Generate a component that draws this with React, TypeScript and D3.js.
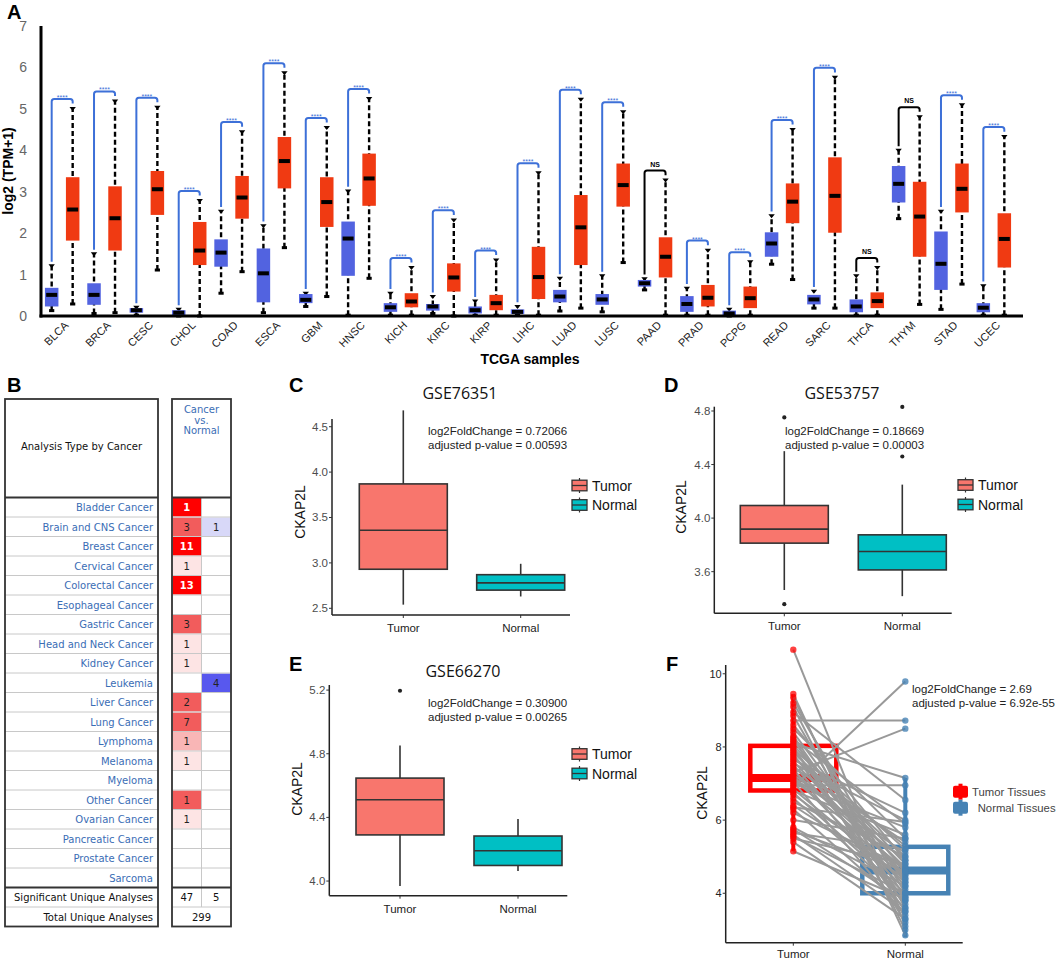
import * as d3 from "d3";

// ---------- Panel A: TCGA pan-cancer boxplots ----------
const tcgaTypes = [
  "BLCA", "BRCA", "CESC", "CHOL", "COAD", "ESCA", "GBM", "HNSC", "KICH", "KIRC", "KIRP", "LIHC",
  "LUAD", "LUSC", "PAAD", "PRAD", "PCPG", "READ", "SARC", "THCA", "THYM", "STAD", "UCEC",
];
// [whiskerLow, q1, median, q3, whiskerHigh]
const tcgaNormal = [
  [0.13, 0.23, 0.51, 0.68, 1.21], [0.06, 0.27, 0.51, 0.79, 1.5], [0.02, 0.08, 0.14, 0.19, 0.21],
  [0, 0.02, 0.08, 0.14, 0.16], [0.55, 1.19, 1.53, 1.85, 2.53], [0.08, 0.33, 1.03, 1.63, 2.18],
  [0.23, 0.31, 0.39, 0.53, 0.55], [0.02, 0.97, 1.87, 2.28, 3.02], [0.02, 0.1, 0.21, 0.31, 0.55],
  [0.06, 0.13, 0.23, 0.29, 0.47], [0.02, 0.06, 0.14, 0.23, 0.36], [0.02, 0.05, 0.1, 0.16, 0.23],
  [0.12, 0.33, 0.47, 0.63, 0.91], [0.1, 0.27, 0.4, 0.53, 0.97], [0.63, 0.71, 0.79, 0.87, 0.9],
  [0.02, 0.1, 0.29, 0.48, 0.67], [0, 0.02, 0.06, 0.13, 0.16], [1.25, 1.43, 1.75, 2.02, 2.42],
  [0.19, 0.28, 0.4, 0.51, 0.6], [0.02, 0.09, 0.23, 0.4, 0.97], [2.35, 2.74, 3.19, 3.62, 4.0],
  [0.16, 0.63, 1.26, 2.04, 2.53], [0.02, 0.09, 0.2, 0.31, 0.73],
];
const tcgaTumor = [
  [0.29, 1.82, 2.57, 3.35, 5.01], [0.08, 1.58, 2.36, 3.13, 5.19], [1.11, 2.44, 3.06, 3.5, 5.04],
  [0, 1.23, 1.58, 2.27, 2.79], [1.07, 2.35, 2.86, 3.38, 4.45], [1.65, 3.08, 3.74, 4.32, 5.87],
  [0.47, 2.15, 2.75, 3.35, 4.55], [0.91, 2.66, 3.32, 3.92, 5.25], [0.02, 0.21, 0.35, 0.55, 1.17],
  [0, 0.59, 0.93, 1.27, 2.32], [0.02, 0.14, 0.31, 0.51, 1.35], [0.02, 0.41, 0.94, 1.67, 3.46],
  [0.19, 1.23, 2.14, 2.92, 5.23], [1.29, 2.64, 3.16, 3.68, 4.93], [0.02, 0.93, 1.43, 1.9, 3.28],
  [0.02, 0.23, 0.44, 0.75, 1.59], [0.02, 0.19, 0.43, 0.71, 1.31], [0.88, 2.24, 2.76, 3.2, 4.5],
  [0.19, 2.01, 2.9, 3.83, 5.76], [0.02, 0.19, 0.36, 0.57, 1.17], [0.28, 1.43, 2.4, 3.24, 4.81],
  [0.77, 2.5, 3.07, 3.68, 5.1], [0.02, 1.17, 1.86, 2.48, 4.33],
];
const tcgaSignif = [
  "****", "****", "****", "****", "****", "****", "****", "****", "****", "****", "****", "****",
  "****", "****", "NS", "****", "****", "****", "****", "NS", "NS", "****", "****",
];
const tcgaYTicks = [0, 1, 2, 3, 4, 5, 6, 7];

// ---------- Panel B: Oncomine table ----------
const oncoCancers = [
  "Bladder Cancer", "Brain and CNS Cancer", "Breast Cancer", "Cervical Cancer", "Colorectal Cancer",
  "Esophageal Cancer", "Gastric Cancer", "Head and Neck Cancer", "Kidney Cancer", "Leukemia",
  "Liver Cancer", "Lung Cancer", "Lymphoma", "Melanoma", "Myeloma", "Other Cancer", "Ovarian Cancer",
  "Pancreatic Cancer", "Prostate Cancer", "Sarcoma",
];
const oncoUp = [1, 3, 11, 1, 13, null, 3, 1, 1, null, 2, 7, 1, 1, null, 1, 1, null, null, null];
const oncoUpTier = [1, 2, 1, 4, 1, 0, 2, 4, 4, 0, 2, 2, 3, 4, 0, 2, 4, 0, 0, 0];
const oncoDown = [null, 1, null, null, null, null, null, null, null, 4, null, null, null, null, null, null, null, null, null, null];
const oncoDownTier = [0, 4, 0, 0, 0, 0, 0, 0, 0, 2, 0, 0, 0, 0, 0, 0, 0, 0, 0, 0];
const oncoSignificant = [47, 5];
const oncoTotal = 299;

// ---------- Panels C, D, E: GEO boxplots ----------
const geoGroups = ["Tumor", "Normal"];
const gse76351Box = [[2.54, 2.93, 3.36, 3.87, 4.68], [2.63, 2.7, 2.78, 2.87, 2.99]];
const gse76351Out: number[][] = [[], []];
const gse76351Ticks = [2.5, 3.0, 3.5, 4.0, 4.5];
const gse53757Box = [[3.463, 3.813, 3.918, 4.094, 4.5], [3.417, 3.613, 3.75, 3.875, 4.25]];
const gse53757Out = [[4.752, 3.357], [4.83, 4.46]];
const gse53757Ticks = [3.6, 4.0, 4.4, 4.8];
const gse66270Box = [[3.969, 4.29, 4.511, 4.647, 4.852], [4.063, 4.098, 4.19, 4.283, 4.39]];
const gse66270Out = [[5.196], []];
const gse66270Ticks = [4.0, 4.4, 4.8, 5.2];

// ---------- Panel F: paired samples ----------
const fGroups = ["Tumor", "Normal"];
const fLegend = ["Tumor Tissues", "Normal Tissues"];
const fBox = [[5.15, 6.81, 7.15, 8.03, 9.45], [2.8, 4.0, 4.62, 5.27, 7.15]];
const fTicks = [4, 6, 8, 10];
const fPairTumor = [
  10.66, 9.45, 9.35, 9.2, 9.1, 8.95, 8.85, 8.72, 8.6, 8.5, 8.4, 8.3, 8.2, 8.15, 8.1, 8.05, 8.0, 7.95,
  7.9, 7.85, 7.8, 7.75, 7.7, 7.6, 7.55, 7.5, 7.45, 7.4, 7.35, 7.3, 7.25, 7.2, 7.15, 7.1, 7.05, 7.0,
  6.95, 6.9, 6.85, 6.8, 6.75, 6.7, 6.6, 6.5, 6.4, 6.3, 6.2, 6.0, 5.8, 5.75, 5.7, 5.65, 5.6, 5.55, 5.5,
  5.4, 5.15, 6.35, 8.25, 7.65,
];
const fPairNormal = [
  3.1, 2.85, 3.3, 4.0, 3.0, 6.55, 3.6, 8.72, 4.9, 5.5, 4.3, 3.9, 5.9, 4.6, 7.15, 4.8, 3.5, 5.2, 4.4,
  5.0, 3.8, 4.7, 5.3, 4.5, 6.0, 4.2, 5.4, 3.7, 4.6, 8.5, 4.9, 4.1, 5.1, 4.65, 3.4, 5.8, 6.95, 9.79,
  4.3, 5.6, 4.0, 4.5, 3.9, 5.0, 4.4, 3.6, 4.7, 5.5, 4.2, 3.8, 4.6, 5.2, 3.5, 4.0, 4.8, 3.3, 3.85, 5.95,
  3.2, 6.2,
];

const ARIAL = "Liberation Sans, Arial, sans-serif";
const TITLE_FONT = "Open Sans, Noto Sans, sans-serif";
const TABLE_FONT = "DejaVu Sans, sans-serif";

function PanelA() {
  const x = d3.scaleBand<string>().domain(tcgaTypes).range([41, 1015]);
  const y = d3.scaleLinear().domain([0, 7]).range([316, 26]);
  const off = 10.5;
  const bw = 13.5;
  const blue = "#5263e0";
  const red = "#f03a12";
  const brBlue = "#3d70d8";

  const box = (s: number[], cx: number, fill: string, key: string) => (
    <g key={key}>
      <line x1={cx} x2={cx} y1={y(s[0])} y2={y(s[4])} stroke="#000" strokeWidth={2.4} strokeDasharray="5,3" />
      <path d={`M${cx - 3.2},${y(s[4]) - 1.5}H${cx + 3.2}L${cx},${y(s[4]) + 2.5}Z`} fill="#000" />
      <rect x={cx - 2.6} y={y(s[0]) - 1.5} width={5.2} height={3} fill="#000" />
      <rect x={cx - bw / 2} y={y(s[3])} width={bw} height={Math.max(1.5, y(s[1]) - y(s[3]))} fill={fill} />
      <rect x={cx - 5.5} y={y(s[2]) - 2} width={11} height={4} fill="#000" />
    </g>
  );

  return (
    <g fontFamily={ARIAL}>
      {tcgaTypes.map((t, i) => {
        const c = (x(t) ?? 0) + x.bandwidth() / 2;
        const n = tcgaNormal[i];
        const tu = tcgaTumor[i];
        const top = y(Math.max(n[4], tu[4]) + 0.23);
        const xl = c - off;
        const xr = c + off;
        const ns = tcgaSignif[i] === "NS";
        const col = ns ? "#000" : brBlue;
        const r = 2.5;
        return (
          <g key={t}>
            <path
              d={`M${xl},${y(n[4] + 0.1)}V${top + r}Q${xl},${top} ${xl + r},${top}H${xr - r}Q${xr},${top} ${xr},${top + r}V${y(tu[4] + 0.12)}`}
              fill="none"
              stroke={col}
              strokeWidth={2}
            />
            {ns ? (
              <text x={c} y={top - 4} textAnchor="middle" fontSize={7} fontWeight="bold" fill="#000">NS</text>
            ) : (
              <text x={c} y={top + 1} textAnchor="middle" fontSize={7} fill={brBlue}>****</text>
            )}
            {box(n, xl, blue, "n")}
            {box(tu, xr, red, "t")}
            <text
              transform={`translate(${c + 7},${326}) rotate(-45)`}
              textAnchor="end"
              fontSize={11}
              fill="#222"
            >
              {t}
            </text>
          </g>
        );
      })}
      <line x1={41} x2={41} y1={y(7)} y2={y(0) + 1.5} stroke="#000" strokeWidth={3} />
      <line x1={39.5} x2={1023} y1={y(0)} y2={y(0)} stroke="#000" strokeWidth={3} />
      {tcgaYTicks.map((v) => (
        <text key={v} x={27} y={y(v) + 5} textAnchor="end" fontSize={14} fill="#666">{v}</text>
      ))}
      <text transform={`translate(13,${y(3.5)}) rotate(-90)`} textAnchor="middle" fontSize={14} fontWeight="bold">
        log2 (TPM+1)
      </text>
      <text x={530} y={364} textAnchor="middle" fontSize={14} fontWeight="bold">TCGA samples</text>
    </g>
  );
}

function PanelB() {
  const rows = d3.scaleBand<number>().domain(d3.range(oncoCancers.length)).range([497.5, 887.5]);
  const rh = rows.bandwidth();
  const upColor = d3.scaleOrdinal<number, string>().domain([1, 2, 3, 4]).range(["#ff0000", "#f25c5c", "#f9b6b6", "#fde4e4"]);
  const downColor = d3.scaleOrdinal<number, string>().domain([1, 2, 3, 4]).range(["#0000ff", "#5858ee", "#a8a8f4", "#d8d8f8"]);
  const L0 = 5, L1 = 158, R0 = 172, R1 = 231, RM = 201.5;
  const top = 399, foot = 887.5, end = 926.5;
  const linkBlue = "#3a6db5";
  return (
    <g fontFamily={TABLE_FONT} fontSize={10}>
      {oncoCancers.map((name, i) => {
        const ry = rows(i) ?? 0;
        return (
          <g key={name}>
            {oncoUp[i] != null && (
              <rect x={R0 + 0.5} y={ry + 0.5} width={RM - R0 - 1} height={rh - 1} fill={upColor(oncoUpTier[i])} />
            )}
            {oncoDown[i] != null && (
              <rect x={RM + 0.5} y={ry + 0.5} width={R1 - RM - 1} height={rh - 1} fill={downColor(oncoDownTier[i])} />
            )}
            {i > 0 && <line x1={L0} x2={L1} y1={ry} y2={ry} stroke="#c8c8c8" strokeWidth={1} />}
            {i > 0 && <line x1={R0} x2={R1} y1={ry} y2={ry} stroke="#c8c8c8" strokeWidth={1} />}
            <text x={153} y={ry + 13.5} textAnchor="end" fill={linkBlue}>{name}</text>
            {oncoUp[i] != null && (
              <text x={(R0 + RM) / 2} y={ry + 13.5} textAnchor="middle" fill={oncoUpTier[i] === 1 ? "#fff" : "#222"} fontWeight={oncoUpTier[i] === 1 ? "bold" : "normal"}>
                {oncoUp[i]}
              </text>
            )}
            {oncoDown[i] != null && (
              <text x={(RM + R1) / 2} y={ry + 13.5} textAnchor="middle" fill="#222">{oncoDown[i]}</text>
            )}
          </g>
        );
      })}
      <line x1={RM} x2={RM} y1={497.5} y2={end - rh} stroke="#c8c8c8" />
      <line x1={L0} x2={L1} y1={foot + rh} y2={foot + rh} stroke="#c8c8c8" />
      <line x1={R0} x2={R1} y1={foot + rh} y2={foot + rh} stroke="#c8c8c8" />
      <rect x={L0} y={top} width={L1 - L0} height={end - top} fill="none" stroke="#333" strokeWidth={1.8} />
      <rect x={R0} y={top} width={R1 - R0} height={end - top} fill="none" stroke="#333" strokeWidth={1.8} />
      {[497.5, foot].map((v) => (
        <g key={v}>
          <line x1={L0} x2={L1} y1={v} y2={v} stroke="#333" strokeWidth={2.2} />
          <line x1={R0} x2={R1} y1={v} y2={v} stroke="#333" strokeWidth={2.2} />
        </g>
      ))}
      <text x={(L0 + L1) / 2} y={450} textAnchor="middle" fill="#111">Analysis Type by Cancer</text>
      {["Cancer", "vs.", "Normal"].map((s, i) => (
        <text key={s} x={RM} y={413 + i * 10.5} textAnchor="middle" fill={linkBlue}>{s}</text>
      ))}
      <text x={153} y={foot + 13.5} textAnchor="end" fill="#111">Significant Unique Analyses</text>
      <text x={153} y={foot + rh + 13.5} textAnchor="end" fill="#111">Total Unique Analyses</text>
      <text x={(R0 + RM) / 2} y={foot + 13.5} textAnchor="middle" fill="#111">{oncoSignificant[0]}</text>
      <text x={(RM + R1) / 2} y={foot + 13.5} textAnchor="middle" fill="#111">{oncoSignificant[1]}</text>
      <text x={RM} y={foot + rh + 13.5} textAnchor="middle" fill="#111">{oncoTotal}</text>
    </g>
  );
}

type Lay = {
  ax: number; xEnd: number; bottom: number; top: number; dom: [number, number];
  cx: [number, number]; bw: number; title: string; titleX: number; titleY: number; ylabX: number; ylabY: number;
  annX: number; annY: number; fc: string; p: string; legX: number; legY: number; fmt: string;
};

function GgBoxPanel({ lay, stats, outliers, ticks }: { lay: Lay; stats: number[][]; outliers: number[][]; ticks: number[] }) {
  const y = d3.scaleLinear().domain(lay.dom).range([lay.bottom, lay.top]);
  const x = d3.scalePoint<string>().domain(geoGroups).range(lay.cx);
  const fills = ["#F8766D", "#00BFC4"];
  const fmt = d3.format(lay.fmt);
  return (
    <g fontFamily={ARIAL}>
      <text x={lay.titleX} y={lay.titleY} textAnchor="middle" fontFamily={TITLE_FONT} fontSize={16} fill="#111">{lay.title}</text>
      {geoGroups.map((g, i) => {
        const s = stats[i];
        const cx = x(g) ?? 0;
        return (
          <g key={g}>
            <line x1={cx} x2={cx} y1={y(s[0])} y2={y(s[4])} stroke="#333" strokeWidth={1.6} />
            <rect x={cx - lay.bw / 2} y={y(s[3])} width={lay.bw} height={y(s[1]) - y(s[3])} fill={fills[i]} stroke="#333" strokeWidth={1.6} />
            <line x1={cx - lay.bw / 2} x2={cx + lay.bw / 2} y1={y(s[2])} y2={y(s[2])} stroke="#333" strokeWidth={1.6} />
            {outliers[i].map((o, k) => (
              <circle key={k} cx={cx} cy={y(o)} r={2.1} fill="#222" />
            ))}
            <line x1={cx} x2={cx} y1={lay.bottom} y2={lay.bottom + 3} stroke="#333" />
            <text x={cx} y={lay.bottom + 17} textAnchor="middle" fontSize={11.5} fill="#222">{g}</text>
          </g>
        );
      })}
      <line x1={lay.ax} x2={lay.ax} y1={lay.top} y2={lay.bottom} stroke="#222" strokeWidth={1.5} />
      <line x1={lay.ax} x2={lay.xEnd} y1={lay.bottom} y2={lay.bottom} stroke="#222" strokeWidth={1.5} />
      {ticks.map((v) => (
        <g key={v}>
          <line x1={lay.ax - 3} x2={lay.ax} y1={y(v)} y2={y(v)} stroke="#333" />
          <text x={lay.ax - 4} y={y(v) + 4} textAnchor="end" fontSize={11.5} fill="#4d4d4d">{fmt(v)}</text>
        </g>
      ))}
      <text transform={`translate(${lay.ylabX},${lay.ylabY}) rotate(-90)`} textAnchor="middle" fontSize={14} fill="#111">CKAP2L</text>
      <text x={lay.annX} y={lay.annY} fontSize={11.5} fill="#222">log2FoldChange = {lay.fc}</text>
      <text x={lay.annX} y={lay.annY + 14} fontSize={11.5} fill="#222">adjusted p-value = {lay.p}</text>
      {geoGroups.map((g, i) => {
        const ky = lay.legY + i * 19.5;
        const kx = lay.legX;
        return (
          <g key={g}>
            <line x1={kx + 7.5} x2={kx + 7.5} y1={ky - 7.5} y2={ky + 7.5} stroke="#333" strokeWidth={1.2} />
            <rect x={kx} y={ky - 5.3} width={15} height={10.6} fill={fills[i]} stroke="#333" strokeWidth={1.3} />
            <line x1={kx} x2={kx + 15} y1={ky} y2={ky} stroke="#333" strokeWidth={1.3} />
            <text x={kx + 20} y={ky + 5} fontSize={14} fill="#111">{g}</text>
          </g>
        );
      })}
    </g>
  );
}

function PanelF() {
  const ax = 725.7, xEnd = 962.7, bottom = 942.7, top = 665;
  const y = d3.scaleLinear().domain([2.649, 10.24]).range([bottom, top]);
  const x = d3.scalePoint<string>().domain(fGroups).range([793.3, 905.3]);
  const cols = ["#ff0000", "#4682b4"];
  const bw = 86;
  const xt = x("Tumor") ?? 0;
  const xn = x("Normal") ?? 0;
  return (
    <g fontFamily={ARIAL}>
      {fGroups.map((g, i) => {
        const s = fBox[i];
        const cx = x(g) ?? 0;
        return (
          <g key={g}>
            <line x1={cx} x2={cx} y1={y(s[0])} y2={y(s[4])} stroke={cols[i]} strokeWidth={4} />
            <rect x={cx - bw / 2} y={y(s[3])} width={bw} height={y(s[1]) - y(s[3])} fill="none" stroke={cols[i]} strokeWidth={4.5} />
            <line x1={cx - bw / 2} x2={cx + bw / 2} y1={y(s[2])} y2={y(s[2])} stroke={cols[i]} strokeWidth={8} />
          </g>
        );
      })}
      {fPairTumor.map((t, i) => (
        <line key={i} x1={xt} x2={xn} y1={y(t)} y2={y(fPairNormal[i])} stroke="#999" strokeWidth={2} />
      ))}
      {fPairTumor.map((t, i) => (
        <circle key={i} cx={xt} cy={y(t)} r={3.2} fill={cols[0]} fillOpacity={0.75} />
      ))}
      {fPairNormal.map((v, i) => (
        <circle key={i} cx={xn} cy={y(v)} r={3.2} fill={cols[1]} fillOpacity={0.8} />
      ))}
      <line x1={ax} x2={ax} y1={top} y2={bottom} stroke="#222" strokeWidth={1.5} />
      <line x1={ax} x2={xEnd} y1={bottom} y2={bottom} stroke="#222" strokeWidth={1.5} />
      {fTicks.map((v) => (
        <g key={v}>
          <line x1={ax - 3} x2={ax} y1={y(v)} y2={y(v)} stroke="#333" />
          <text x={ax - 4} y={y(v) + 4} textAnchor="end" fontSize={11} fill="#222">{v}</text>
        </g>
      ))}
      {fGroups.map((g) => (
        <g key={g}>
          <line x1={x(g) ?? 0} x2={x(g) ?? 0} y1={bottom} y2={bottom + 3} stroke="#333" />
          <text x={x(g) ?? 0} y={958} textAnchor="middle" fontSize={11.5} fill="#222">{g}</text>
        </g>
      ))}
      <text transform={`translate(707,793) rotate(-90)`} textAnchor="middle" fontSize={14} fill="#111">CKAP2L</text>
      <text x={912} y={693} fontSize={11.5} fill="#222">log2FoldChange = 2.69</text>
      <text x={912} y={707} fontSize={11.5} fill="#222">adjusted p-value = 6.92e-55</text>
      {fLegend.map((s, i) => {
        const ky = 791.7 + i * 16;
        return (
          <g key={s}>
            <line x1={960.5} x2={960.5} y1={ky - 8} y2={ky + 8} stroke={cols[i]} strokeWidth={4} />
            <rect x={953} y={ky - 6} width={15} height={12} rx={2} fill={cols[i]} />
            <text x={i === 0 ? 972 : 977.7} y={ky + 4.5} fontSize={11.3} fill="#444">{s}</text>
          </g>
        );
      })}
    </g>
  );
}

const layC: Lay = {
  ax: 332, xEnd: 570, bottom: 615, top: 419, dom: [2.426, 4.585], cx: [403.3, 520.7], bw: 88,
  title: "GSE76351", titleX: 460, titleY: 399, ylabX: 305, ylabY: 512, annX: 428, annY: 435, fc: "0.72066", p: "0.00593",
  legX: 572, legY: 485.5, fmt: ".1f",
};
const layD: Lay = {
  ax: 714.3, xEnd: 951.7, bottom: 613.3, top: 406.7, dom: [3.289, 4.832], cx: [784.3, 902.3], bw: 88,
  title: "GSE53757", titleX: 842, titleY: 399, ylabX: 686, ylabY: 507, annX: 785, annY: 435, fc: "0.18669", p: "0.00003",
  legX: 958, legY: 485, fmt: ".1f",
};
const layE: Lay = {
  ax: 329.3, xEnd: 567.3, bottom: 895.7, top: 685, dom: [3.908, 5.232], cx: [400, 518], bw: 88,
  title: "GSE66270", titleX: 463, titleY: 677, ylabX: 302, ylabY: 789, annX: 428, annY: 706.7, fc: "0.30900", p: "0.00265",
  legX: 572, legY: 754, fmt: ".1f",
};

export default function App() {
  return (
    <svg width={1059} height={961} style={{ position: "absolute", left: 0, top: 0, background: "#fff" }}>
      <PanelA />
      <PanelB />
      <GgBoxPanel lay={layC} stats={gse76351Box} outliers={gse76351Out} ticks={gse76351Ticks} />
      <GgBoxPanel lay={layD} stats={gse53757Box} outliers={gse53757Out} ticks={gse53757Ticks} />
      <GgBoxPanel lay={layE} stats={gse66270Box} outliers={gse66270Out} ticks={gse66270Ticks} />
      <PanelF />
      <g fontFamily={ARIAL} fontWeight="bold" fontSize={20} fill="#000">
        <text x={7} y={19}>A</text>
        <text x={7} y={392}>B</text>
        <text x={289} y={392}>C</text>
        <text x={664} y={392}>D</text>
        <text x={289} y={671}>E</text>
        <text x={666} y={671}>F</text>
      </g>
    </svg>
  );
}
